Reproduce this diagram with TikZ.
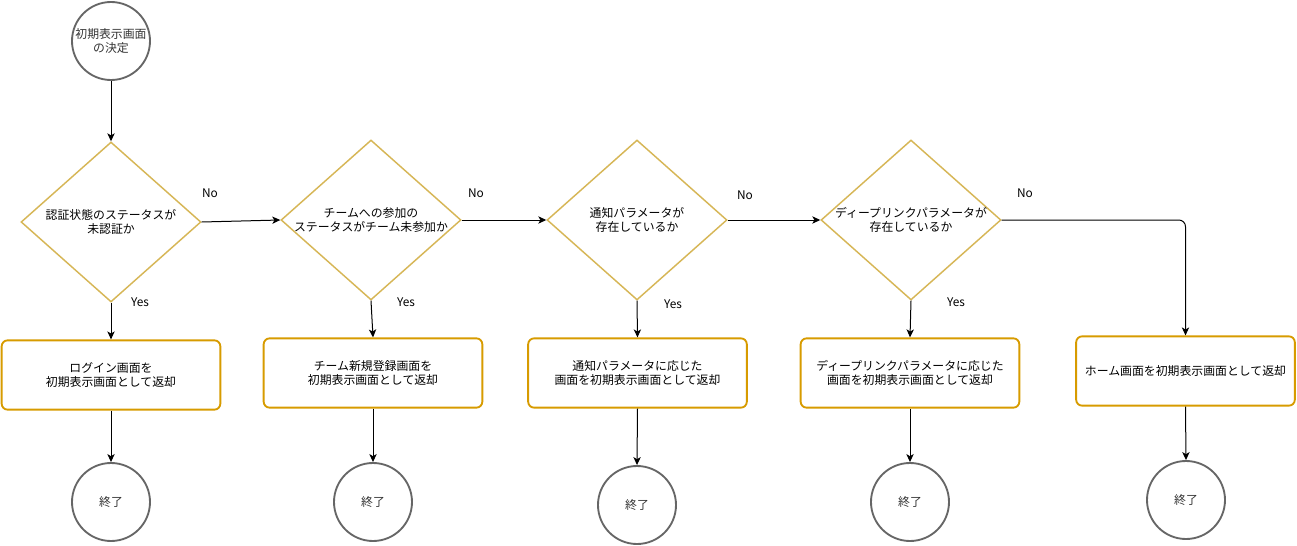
\documentclass[tikz,border=0pt]{standalone}
\usepackage{fontspec}
\setmainfont{Noto Sans CJK JP}
\usetikzlibrary{shapes.geometric,arrows.meta}

\begin{document}
\begin{tikzpicture}[x=0.75pt,y=-0.75pt,
  font=\fontsize{8.9}{10.2}\selectfont,
  decision/.style={diamond,draw=decisionLine,line width=1.1pt,minimum width=135pt,minimum height=120pt,inner sep=0pt},
  result/.style={draw=resultLine,line width=1.4pt,rounded corners=4.5pt,minimum width=164pt,minimum height=52pt,align=center,inner sep=0pt},
  terminal/.style={circle,draw=terminalLine,line width=1.4pt,minimum size=58.5pt,inner sep=0pt,align=center,text=terminalText},
  qtext/.style={align=center,inner sep=0pt},
  answer/.style={inner sep=0pt},
  flow/.style={-{Stealth[length=6pt,width=5.5pt,inset=1.6pt]},line width=0.75pt}]
\definecolor{decisionLine}{HTML}{D6B656}
\definecolor{resultLine}{HTML}{D79B00}
\definecolor{terminalLine}{HTML}{666666}
\definecolor{terminalText}{HTML}{333333}
\useasboundingbox (0,0) rectangle (1297,546);
\node[terminal] (start) at (111,41) {初期表示画面\\の決定};
\node[decision] (q1) at (111,222) {};
\node[decision] (q2) at (371,220) {};
\node[decision] (q3) at (637,220) {};
\node[decision] (q4) at (911,220) {};
\node[qtext] (q1text) at (q1) {認証状態のステータスが\\未認証か};
\node[qtext] (q2text) at (q2) {チームへの参加の\\ステータスがチーム未参加か};
\node[qtext] (q3text) at (q3) {通知パラメータが\\存在しているか};
\node[qtext] (q4text) at (q4) {ディープリンクパラメータが\\存在しているか};
\node[result] (r1) at (111,375) {ログイン画面を\\初期表示画面として返却};
\node[result] (r2) at (373,373) {チーム新規登録画面を\\初期表示画面として返却};
\node[result] (r3) at (637.5,373) {通知パラメータに応じた\\画面を初期表示画面として返却};
\node[result] (r4) at (910,373) {ディープリンクパラメータに応じた\\画面を初期表示画面として返却};
\node[result] (r5) at (1185.5,371) {ホーム画面を初期表示画面として返却};
\foreach \i/\x/\y in {1/111/502,2/373/502,3/637/505,4/910/502,5/1186/500} {
  \node[terminal] (end\i) at (\x,\y) {終了};
}
\draw[flow] (start) -- (q1.north);
\draw[flow] (q1.east) -- (q2.west);
\draw[flow] (q2.east) -- (q3.west);
\draw[flow] (q3.east) -- (q4.west);
\draw[flow,rounded corners=5pt] (q4.east) -| (r5.north);
\foreach \i in {1,...,4} {
  \draw[flow] (q\i.south) -- (r\i.north);
}
\foreach \i in {1,...,5} {
  \draw[flow] (r\i.south) -- (end\i.north);
}
\foreach \i/\x/\y in {1/210/193,2/476/193,3/745/195,4/1025/193} {
  \node[answer] (no\i) at (\x,\y) {No};
}
\foreach \i/\x/\y in {1/140/302,2/406/302,3/673/304,4/956/302} {
  \node[answer] (yes\i) at (\x,\y) {Yes};
}
\end{tikzpicture}
\end{document}
